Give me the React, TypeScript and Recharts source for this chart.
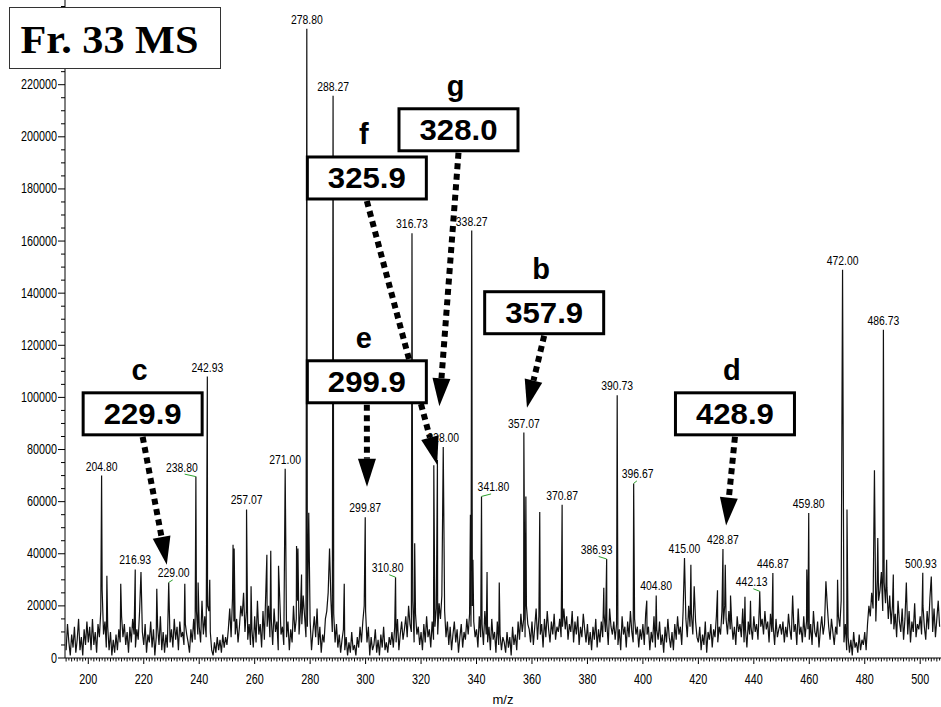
import React from "react";
import { ComposedChart, Line, Scatter, XAxis, YAxis, ReferenceLine } from "recharts";

// baseline noise, intensity in thousands, one value every 0.5 m/z from the block start
const noiseStep = 0.5;
const noise192 = [3, 13, 6, 1, 9, 4, 12, 2, 7, 15, 3, 8, 1, 11, 5, 14];
const noise200 = [
  6, 12, 3, 15, 5, 10, 2, 13, 8, 18, 26, 9, 14, 4, 12, 3, 10, 1, 7, 2,
  9, 3, 11, 6, 16, 8, 13, 5, 10, 2, 12, 6, 15, 9, 4, 11, 7, 18, 3, 10,
  5, 13, 2, 9, 6, 14, 4, 11, 1, 8, 12, 5, 16, 3, 10, 2, 9, 4, 13, 6,
  11, 4, 15, 7, 12, 3, 14, 8, 10, 5, 13, 9, 6, 2, 11, 6, 15, 7, 18, 9,
  12, 6, 22, 9, 16, 8, 20, 18, 10, 3, 1, 6, 2, 8, 3, 7, 2, 9, 4, 8,
];
const noise250 = [
  5, 11, 19, 8, 23, 14, 9, 15, 6, 12, 20, 16, 25, 10, 18, 7, 13, 5, 11, 4,
  16, 6, 22, 9, 13, 4, 18, 7, 25, 12, 20, 8, 15, 5, 19, 10, 14, 3, 24, 9,
  12, 5, 17, 8, 14, 3, 11, 6, 20, 10, 15, 22, 9, 18, 13, 24, 16, 8, 12, 6,
  14, 3, 10, 16, 8, 19, 5, 12, 2, 9, 6, 15, 18, 25, 12, 22, 10, 17, 6, 13,
  4, 9, 2, 7, 11, 3, 8, 1, 6, 2, 10, 3, 5, 1, 8, 4, 12, 6, 14, 20,
];
const noise300 = [
  18, 6, 12, 1, 8, 3, 5, 11, 2, 7, 1, 9, 4, 12, 3, 6, 2, 8, 5, 10,
  4, 12, 6, 15, 3, 9, 14, 7, 11, 16, 8, 20, 13, 10, 22, 6, 17, 9, 12, 5,
  10, 3, 13, 6, 16, 8, 11, 4, 14, 7, 12, 19, 9, 21, 15, 24, 11, 18, 8, 14,
  5, 12, 3, 9, 14, 6, 11, 2, 8, 13, 4, 10, 7, 15, 9, 17, 12, 20, 14, 8,
  11, 4, 16, 8, 13, 5, 18, 9, 6, 12, 3, 15, 7, 10, 2, 14, 5, 9, 3, 8,
];
const noise350 = [
  6, 2, 10, 4, 8, 1, 12, 5, 9, 3, 14, 7, 17, 10, 15, 8, 20, 13, 11, 6,
  14, 5, 12, 19, 7, 16, 9, 13, 4, 15, 8, 18, 11, 6, 14, 9, 17, 7, 12, 10,
  15, 8, 12, 19, 11, 16, 7, 13, 10, 18, 6, 14, 9, 16, 5, 12, 8, 17, 11, 6,
  13, 5, 10, 3, 12, 7, 15, 4, 11, 6, 14, 8, 17, 10, 13, 5, 19, 12, 9, 14,
  7, 13, 5, 11, 3, 16, 9, 12, 4, 14, 8, 18, 10, 6, 15, 9, 12, 4, 11, 7,
];
const noise400 = [
  13, 5, 17, 9, 12, 3, 10, 6, 16, 4, 11, 7, 14, 5, 9, 2, 12, 6, 15, 8,
  4, 10, 3, 13, 7, 16, 9, 12, 5, 18, 11, 15, 8, 20, 12, 17, 9, 22, 14, 8,
  6, 12, 3, 9, 5, 14, 2, 10, 7, 13, 4, 11, 8, 16, 6, 12, 9, 18, 13, 20,
  15, 9, 18, 11, 14, 7, 12, 5, 16, 10, 13, 8, 19, 6, 11, 4, 14, 9, 12, 7,
  16, 10, 13, 7, 20, 12, 15, 9, 18, 11, 14, 6, 17, 10, 12, 5, 15, 8, 11, 13,
];
const noise450 = [
  9, 14, 6, 12, 8, 17, 11, 7, 15, 10, 13, 5, 19, 9, 12, 6, 16, 8, 14, 11,
  7, 13, 5, 18, 10, 8, 14, 4, 11, 16, 9, 13, 6, 20, 12, 7, 15, 10, 5, 12,
  9, 16, 12, 22, 10, 6, 13, 3, 8, 2, 7, 1, 10, 4, 6, 2, 9, 3, 7, 5,
  10, 3, 13, 20, 16, 25, 19, 28, 14, 30, 22, 26, 33, 18, 29, 21, 27, 15, 24, 13,
  20, 11, 17, 8, 22, 14, 10, 19, 7, 15, 12, 9, 18, 6, 14, 10, 21, 8, 13, 11,
  16, 9, 20, 12, 7, 18, 11, 23, 14, 10, 19, 8, 15, 22, 12,
];
const noiseBlocks: [number, number[]][] = [
  [192, noise192], [200, noise200], [250, noise250], [300, noise300],
  [350, noise350], [400, noise400], [450, noise450],
];

// [m/z, intensity in thousands]
const labeledPeaks: [number, number][] = [
  [204.8, 70], [216.93, 34], [229.0, 29], [238.8, 69.6], [242.93, 108],
  [257.07, 57], [271.0, 72.6], [278.8, 241.5], [288.27, 215.8], [299.87, 54],
  [310.8, 31], [316.73, 163], [328.0, 81], [338.27, 164], [341.8, 62],
  [357.07, 86.5], [370.87, 58.8], [386.93, 38], [390.73, 100.8], [396.67, 67],
  [404.8, 24], [415.0, 38.4], [428.87, 41.8], [442.13, 25.6], [446.87, 32.6],
  [459.8, 55.6], [472.0, 149], [486.73, 126], [500.93, 32.7],
];
const otherPeaks: [number, number][] = [
  [206.7, 31.6], [211.7, 28.5], [219.0, 33], [224.7, 26.6], [234.8, 28.5],
  [239.6, 29], [243.8, 30], [252.2, 43.5], [252.6, 42], [258.7, 27.5],
  [264.4, 39.6], [265.8, 41.2], [268.6, 35.4], [275.1, 43], [275.6, 42],
  [276.9, 32], [279.5, 55.7], [287.0, 42], [292.3, 28.5], [317.7, 44],
  [324.6, 74], [325.9, 76], [337.8, 55], [338.7, 37.7], [343.8, 33],
  [348.2, 29], [357.8, 62], [362.8, 56], [385.9, 27], [401.4, 22],
  [417.3, 35.8], [418.5, 27.5], [426.9, 26], [429.7, 35.8], [431.6, 24],
  [436.8, 23.5], [438.8, 22], [454.0, 24], [459.1, 34], [466.0, 29.4],
  [470.2, 30], [473.6, 57], [483.5, 72], [484.7, 46], [487.9, 37.7],
  [490.3, 32], [495.0, 29], [504.0, 31.3],
];

const xTickLabels = [200, 220, 240, 260, 280, 300, 320, 340, 360, 380, 400, 420, 440, 460, 480, 500];
// 240000 sits under the title box in the original, so it carries no label
const yTickLabels = [0, 20000, 40000, 60000, 80000, 100000, 120000, 140000, 160000, 180000, 200000, 220000];

const annotations = [
  { letter: "c", text: "229.9", box: [219.6, 93.7], tip: [228.3, 35.8] },
  { letter: "f", text: "325.9", box: [300.45, 184.2], tip: [325.8, 74.2] },
  { letter: "g", text: "328.0", box: [333.5, 202.7], tip: [326.6, 96.6] },
  { letter: "e", text: "299.9", box: [300.45, 106], tip: [300.5, 65.7] },
  { letter: "b", text: "357.9", box: [364.4, 132.5], tip: [358.2, 96] },
  { letter: "d", text: "428.9", box: [433.2, 93.7], tip: [430.0, 50.8] },
];

// label nudges (px) for labels drawn beside their peak
const labelShift: Record<string, number> = {
  "229.00": 5, "238.80": -14, "310.80": -8, "341.80": 12, "386.93": -10, "396.67": 4, "442.13": -8, "500.93": -2,
};
const leaderLabels = ["229.00", "238.80", "310.80", "341.80", "386.93", "396.67", "442.13"];

const narrow = "'Liberation Sans Narrow', 'Liberation Sans', Arial, sans-serif";

const spectrum = (() => {
  const peaks = [...labeledPeaks, ...otherPeaks];
  const pts: { mz: number; v: number }[] = [];
  noiseBlocks.forEach(([start, vals]) =>
    vals.forEach((k, i) => {
      const mz = start + i * noiseStep;
      if (!peaks.some((p) => Math.abs(p[0] - mz) < 0.05)) pts.push({ mz, v: k * 1000 });
    })
  );
  peaks.forEach(([mz, k]) => pts.push({ mz, v: k * 1000 }));
  return pts.sort((a, b) => a.mz - b.mz);
})();

const labelData = labeledPeaks.map(([mz, k]) => ({ mz, v: k * 1000, text: mz.toFixed(2) }));

const xTicks: number[] = [];
for (let m = 192; m <= 507; m += 1) xTicks.push(m);
const yTicks: number[] = [];
for (let v = 0; v <= 250000; v += 5000) yTicks.push(v);

const XTick = (props: any) => {
  const { x, y, payload } = props;
  const v = payload.value;
  const major = xTickLabels.includes(v);
  return (
    <g>
      <line x1={x} x2={x} y1={y} y2={y + (major ? 6 : v % 2 === 0 ? 3.5 : 2.5)} stroke="#000" />
      {major && (
        <text x={x} y={y + 26} textAnchor="middle" fontSize={14} fontFamily={narrow} fill="#000"
          textLength={18} lengthAdjust="spacingAndGlyphs">
          {v}
        </text>
      )}
    </g>
  );
};

const YTick = (props: any) => {
  const { x, y, payload } = props;
  const v = payload.value;
  const major = yTickLabels.includes(v) || v === 240000;
  const labelled = yTickLabels.includes(v);
  const s = String(v);
  return (
    <g>
      <line x1={x - (major ? 7 : 4)} x2={x} y1={y} y2={y} stroke="#000" />
      {labelled && (
        <text x={x - 8} y={y + 4.5} textAnchor="end" fontSize={14} fontFamily={narrow} fill="#000"
          textLength={s.length * 6} lengthAdjust="spacingAndGlyphs">
          {s}
        </text>
      )}
    </g>
  );
};

const PeakLabel = (props: any) => {
  const { cx, cy, payload } = props;
  const dx = labelShift[payload.text] || 0;
  return (
    <g>
      {leaderLabels.includes(payload.text) && (
        <line x1={cx} y1={cy} x2={cx + dx * 0.8} y2={cy - 2.5} stroke="#2ca02c" strokeWidth={1} />
      )}
      <text x={cx + dx} y={cy - 5} textAnchor="middle" fontSize={13} fontFamily={narrow} fill="#000"
        textLength={payload.text.length * 5.3} lengthAdjust="spacingAndGlyphs">
        {payload.text}
      </text>
    </g>
  );
};

const makeAnnotation = (a: { letter: string; text: string }) => (p: any) => {
  const { x1, y1, x2, y2 } = p;
  const bw = 119;
  const bh = 42;
  const sx = x1;
  const sy = y1 + bh / 2 + 2;
  const dx = x2 - sx;
  const dy = y2 - sy;
  const len = Math.hypot(dx, dy) || 1;
  const ux = dx / len;
  const uy = dy / len;
  const headLen = 28;
  const headW = 18;
  const bx = x2 - ux * headLen;
  const by = y2 - uy * headLen;
  const px = -uy;
  const py = ux;
  return (
    <g>
      <line x1={sx} y1={sy} x2={bx} y2={by} stroke="#000" strokeWidth={6} strokeDasharray="6 4.5" />
      <polygon
        points={`${x2},${y2} ${bx + (px * headW) / 2},${by + (py * headW) / 2} ${bx - (px * headW) / 2},${by - (py * headW) / 2}`}
        fill="#000"
      />
      <rect x={x1 - bw / 2} y={y1 - bh / 2} width={bw} height={bh} fill="#fff" stroke="#000" strokeWidth={3} />
      <text x={x1} y={y1 + 10.5} textAnchor="middle" fontSize={29} fontWeight="bold"
        fontFamily="'Liberation Sans', Arial, sans-serif" fill="#000" textLength={78} lengthAdjust="spacingAndGlyphs">
        {a.text}
      </text>
      <text x={x1 - 3} y={y1 - 34} textAnchor="middle" fontSize={29} fontWeight="bold"
        fontFamily="'Liberation Sans', Arial, sans-serif" fill="#000">
        {a.letter}
      </text>
    </g>
  );
};

export default function App() {
  return (
    <div style={{ position: "absolute", left: 0, top: 0, width: 941, height: 707, background: "#fff" }}>
      <ComposedChart width={941} height={707} data={spectrum} margin={{ top: 0, right: 0, bottom: 0, left: 0 }}>
        <XAxis
          dataKey="mz"
          type="number"
          scale="linear"
          domain={[191.6, 507.5]}
          ticks={xTicks}
          interval={0}
          tick={XTick}
          tickLine={false}
          tickSize={0}
          tickMargin={0}
          height={49}
          axisLine={{ stroke: "#000" }}
          label={{ value: "m/z", position: "insideBottom", offset: 3, fontSize: 13, fontFamily: narrow, fill: "#000" }}
        />
        <YAxis
          type="number"
          domain={[0, 252500]}
          ticks={yTicks}
          interval={0}
          tick={YTick}
          tickLine={false}
          tickSize={0}
          tickMargin={0}
          width={65}
          axisLine={{ stroke: "#000" }}
        />
        <Line dataKey="v" type="linear" stroke="#111" strokeWidth={1.2} dot={false} activeDot={false} isAnimationActive={false} />
        <Scatter data={labelData} dataKey="v" shape={PeakLabel} isAnimationActive={false} />
        {annotations.map((a) => (
          <ReferenceLine
            key={a.letter}
            segment={[{ x: a.box[0], y: a.box[1] * 1000 }, { x: a.tip[0], y: a.tip[1] * 1000 }]}
            shape={makeAnnotation(a)}
            ifOverflow="visible"
            zIndex={3000}
          />
        ))}
      </ComposedChart>
      <svg width={240} height={80} style={{ position: "absolute", left: 0, top: 0 }}>
        <rect x={9.5} y={7.5} width={211} height={61} fill="#fff" stroke="#333" strokeWidth={1} />
        <text x={20.5} y={53.3} fontSize={41} fontWeight="bold" fontFamily="'Liberation Serif', 'Times New Roman', serif"
          fill="#000" textLength={178} lengthAdjust="spacingAndGlyphs">
          Fr. 33 MS
        </text>
      </svg>
    </div>
  );
}
